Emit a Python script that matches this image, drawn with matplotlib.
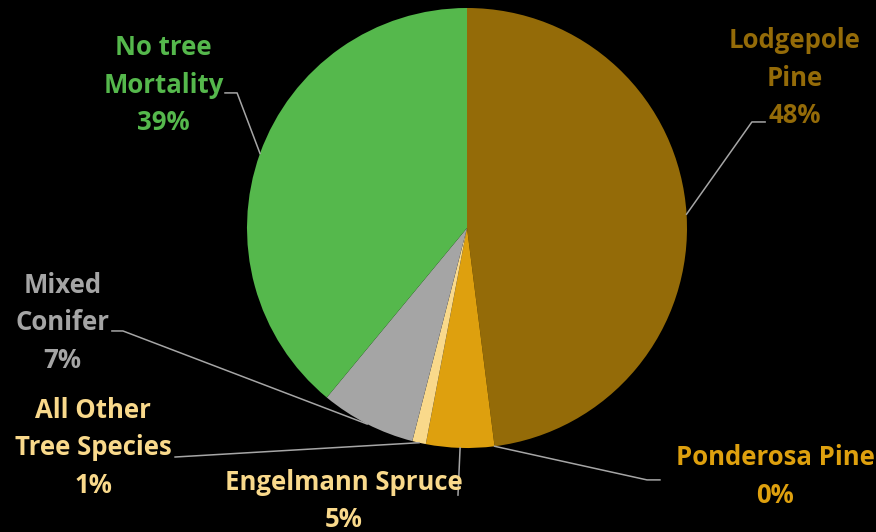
import numpy as np
import matplotlib
matplotlib.use("Agg")
import matplotlib.pyplot as plt

# slice data (clockwise from 12 o'clock)
labels = ["Lodgepole\nPine", "Ponderosa Pine", "Engelmann Spruce",
          "All Other\nTree Species", "Mixed\nConifer", "No tree\nMortality"]
values = [48, 0, 5, 1, 7, 39]
slice_colors = ["#946B08", "#DEA00E", "#DEA00E", "#F9D98B", "#A5A5A5", "#55B84C"]
label_colors = ["#946B08", "#DEA00E", "#F9D98B", "#F9D98B", "#A5A5A5", "#55B84C"]

# label placement in units of the pie radius: text centre, leader elbow, leader end
label_pos = [(1.49, 0.68), (1.40, -1.13), (-0.56, -1.24),
             (-1.70, -1.00), (-1.84, -0.43), (-1.38, 0.65)]
elbows = [(1.295, 0.482), (0.818, -1.145), (-0.041, -1.214),
          (-1.327, -1.041), (-1.564, -0.468), (-1.045, 0.614)]
ends = [(1.355, 0.482), (0.877, -1.145), None,
        None, (-1.614, -0.468), (-1.10, 0.614)]

W, H = 876, 532
cx, cy, R = 467, 228, 220

fig = plt.figure(figsize=(W / 100, H / 100), dpi=100, facecolor="black")
ax = fig.add_axes([(cx - R) / W, (H - cy - R) / H, 2 * R / W, 2 * R / H])
ax.set_facecolor("black")

wedges, _ = ax.pie(values, colors=slice_colors, startangle=90, counterclock=False,
                   radius=1, wedgeprops=dict(edgecolor="none", linewidth=0))
ax.set_xlim(-1, 1)
ax.set_ylim(-1, 1)
ax.set_aspect("equal")
ax.axis("off")

for i, w in enumerate(wedges):
    mid = np.deg2rad((w.theta1 + w.theta2) / 2)
    sx, sy = np.cos(mid), np.sin(mid)
    pts = [(sx, sy), elbows[i]]
    if ends[i] is not None:
        pts.append(ends[i])
    xs, ys = zip(*pts)
    ax.plot(xs, ys, color="#A6A6A6", lw=1.1, clip_on=False, zorder=1)
    pct = f"{values[i]}%"
    ax.text(label_pos[i][0], label_pos[i][1], labels[i] + "\n" + pct,
            color=label_colors[i], ha="center", va="center", fontsize=18.5,
            fontweight="bold", family="Open Sans", linespacing=1.5,
            clip_on=False)

fig.savefig("out.png", dpi=100, facecolor="black")
